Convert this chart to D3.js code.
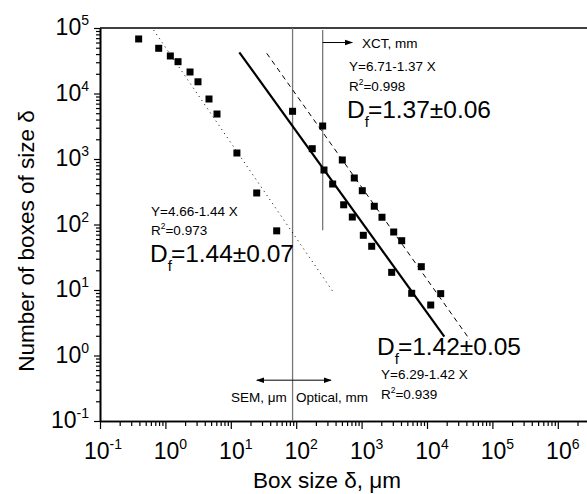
<!DOCTYPE html>
<html>
<head>
<meta charset="utf-8">
<script src="https://cdn.jsdelivr.net/npm/d3@7"></script>
<style>
  body { margin: 0; background: #fff; }
  svg { font-family: "Liberation Sans", Arial, sans-serif; }
</style>
</head>
<body>
<div id="chart"></div>
<script>
// SEM, um
var semX = [0.39, 0.79, 1.19, 1.56, 2.38, 3.15, 4.64, 6.15, 12.4, 24.9, 50.3];
var semY = [68000, 49000, 37400, 30600, 21300, 15100, 8240, 4860, 1235, 303, 80];
// Optical, mm
var optX = [88, 176, 266, 361, 532, 721, 1062, 1427, 2884, 5834, 11400];
var optY = [5350, 1437, 679, 415, 200, 130, 68.4, 46.5, 18.6, 8.9, 5.9];
// XCT, mm
var xctX = [254, 507, 773, 1025, 1563, 2050, 3097, 4104, 8180, 16200];
var xctY = [3190, 966, 513, 328, 190, 129, 76.8, 56.6, 22.7, 8.8];

// fitted lines, end points
var fitSemX = [0.66, 383], fitSemY = [93000, 8.8];
var fitOptX = [13.5, 18400], fitOptY = [42600, 1.94];
var fitXctX = [35.4, 45400], fitXctY = [41100, 1.73];

// range limits
var semOptLimit = 88;
var xctLimit = 254, xctLimitBottom = 82;

var xTickExp = [-1, 0, 1, 2, 3, 4, 5, 6];
var yTickExp = [-1, 0, 1, 2, 3, 4, 5];

(function () {
  var width = 587, height = 494;
  var mLeft = 100, mTop = 28, mBottom = 421;
  var decadeX = 65.4;

  var svg = d3.select("#chart").append("svg")
      .attr("width", width)
      .attr("height", height);

  svg.append("defs").append("marker")
      .attr("id", "arrow")
      .attr("viewBox", "0 0 10 10")
      .attr("refX", 9).attr("refY", 5)
      .attr("markerWidth", 8).attr("markerHeight", 8)
      .attr("markerUnits", "userSpaceOnUse")
      .attr("orient", "auto")
      .append("path")
      .attr("d", "M0,1.5 L10,5 L0,8.5 Z")
      .attr("fill", "#000");

  var x = d3.scaleLog().domain([0.1, 1e7]).range([mLeft, mLeft + 8 * decadeX]);
  var y = d3.scaleLog().domain([0.1, 1e5]).range([mBottom, mTop]);

  // minor ticks
  var xMinor = [], yMinor = [];
  for (var e = -1; e < 7; e++) for (var k = 2; k < 10; k++) xMinor.push(k * Math.pow(10, e));
  for (var e = -1; e < 5; e++) for (var k = 2; k < 10; k++) yMinor.push(k * Math.pow(10, e));

  function styleAxis(g) {
    g.select(".domain").attr("stroke", "#000").attr("stroke-width", 1.6);
    g.selectAll(".tick line").attr("stroke", "#000").attr("stroke-width", 1.2);
  }
  function pow10(d) { return Math.pow(10, d); }

  svg.append("g")
      .attr("transform", "translate(0," + mBottom + ")")
      .call(d3.axisBottom(x).tickValues(xMinor).tickSize(5).tickFormat("").tickSizeOuter(0))
      .call(styleAxis);
  svg.append("g")
      .attr("transform", "translate(0," + mBottom + ")")
      .call(d3.axisBottom(x).tickValues(xTickExp.map(pow10)).tickSize(8).tickFormat("").tickSizeOuter(0))
      .call(styleAxis);

  svg.append("g")
      .attr("transform", "translate(" + mLeft + ",0)")
      .call(d3.axisLeft(y).tickValues(yMinor).tickSize(4).tickFormat("").tickSizeOuter(0))
      .call(styleAxis);
  svg.append("g")
      .attr("transform", "translate(" + mLeft + ",0)")
      .call(d3.axisLeft(y).tickValues(yTickExp.map(pow10)).tickSize(6).tickFormat("").tickSizeOuter(0))
      .call(styleAxis);

  // top frame
  svg.append("line")
      .attr("x1", mLeft).attr("x2", width)
      .attr("y1", mTop).attr("y2", mTop)
      .attr("stroke", "#000").attr("stroke-width", 1.6);

  // tick labels
  function powLabel(t, e) {
    t.append("tspan").text("10");
    t.append("tspan").attr("dy", -10).attr("font-size", 14).text(e);
  }
  xTickExp.forEach(function (e) {
    var t = svg.append("text")
        .attr("x", x(pow10(e)) + (e < 0 ? 3 : 5))
        .attr("y", 459)
        .attr("text-anchor", "middle")
        .attr("font-size", 23);
    powLabel(t, e);
  });
  yTickExp.forEach(function (e) {
    var t = svg.append("text")
        .attr("y", y(pow10(e)) + 7)
        .attr("font-size", 23);
    powLabel(t, e);
    t.attr("x", 89 - t.node().getComputedTextLength());
  });

  // axis titles
  svg.append("text")
      .attr("x", 327).attr("y", 488)
      .attr("text-anchor", "middle")
      .attr("font-size", 22.5)
      .text("Box size \u03b4, \u03bcm");
  svg.append("text")
      .attr("transform", "translate(34,241) rotate(-90)")
      .attr("text-anchor", "middle")
      .attr("font-size", 22.5)
      .text("Number of boxes of size  \u03b4");

  var plot = svg.append("g");

  // range boundaries
  plot.append("line")
      .attr("x1", x(semOptLimit)).attr("x2", x(semOptLimit))
      .attr("y1", mTop).attr("y2", mBottom)
      .attr("stroke", "#777").attr("stroke-width", 1.3);
  plot.append("line")
      .attr("x1", x(xctLimit)).attr("x2", x(xctLimit))
      .attr("y1", mTop + 2).attr("y2", y(xctLimitBottom))
      .attr("stroke", "#777").attr("stroke-width", 1.3);

  // arrows
  function arrow(x0, x1, yv) {
    plot.append("line")
        .attr("x1", x(x0)).attr("x2", x(x1))
        .attr("y1", y(yv)).attr("y2", y(yv))
        .attr("stroke", "#000").attr("stroke-width", 1)
        .attr("marker-end", "url(#arrow)");
  }
  arrow(xctLimit, 720, 60000);
  arrow(semOptLimit, 25, 0.42);
  arrow(semOptLimit, 340, 0.42);

  // fitted lines
  function fitLine(xs, ys, w, dash) {
    plot.append("line")
        .attr("x1", x(xs[0])).attr("y1", y(ys[0]))
        .attr("x2", x(xs[1])).attr("y2", y(ys[1]))
        .attr("stroke", "#000")
        .attr("stroke-width", w)
        .attr("stroke-dasharray", dash);
  }
  fitLine(fitSemX, fitSemY, 1, "1,4");
  fitLine(fitXctX, fitXctY, 1, "5,4");
  fitLine(fitOptX, fitOptY, 2.2, null);

  // points
  var sz = 7;
  function squares(xs, ys) {
    plot.selectAll(null)
        .data(xs.map(function (d, i) { return [d, ys[i]]; }))
        .enter().append("rect")
        .attr("x", function (d) { return x(d[0]) - sz / 2; })
        .attr("y", function (d) { return y(d[1]) - sz / 2; })
        .attr("width", sz).attr("height", sz)
        .attr("fill", "#000");
  }
  squares(semX, semY);
  squares(optX, optY);
  squares(xctX, xctY);

  // annotations
  function small(tx, ty, str) {
    svg.append("text").attr("x", tx).attr("y", ty).attr("font-size", 13.5).text(str);
  }
  function rsq(tx, ty, val) {
    var t = svg.append("text").attr("x", tx).attr("y", ty).attr("font-size", 13.5);
    t.append("tspan").text("R");
    t.append("tspan").attr("dy", -6).attr("font-size", 8.5).text("2");
    t.append("tspan").attr("dy", 6).text("=" + val);
  }
  function df(tx, ty, val) {
    var t = svg.append("text").attr("x", tx).attr("y", ty).attr("font-size", 24.5);
    t.append("tspan").text("D");
    t.append("tspan").attr("dy", 9).attr("font-size", 15).text("f");
    t.append("tspan").attr("dy", -9).attr("dx", -1).text("=" + val);
  }

  small(362, 48, "XCT, mm");
  small(349, 71, "Y=6.71-1.37 X");
  rsq(349, 91, "0.998");
  df(347, 118, "1.37\u00b10.06");

  small(151, 216, "Y=4.66-1.44 X");
  rsq(151, 235, "0.973");
  df(150, 262, "1.44\u00b10.07");

  df(377, 355, "1.42\u00b10.05");
  small(381, 379, "Y=6.29-1.42 X");
  rsq(381, 399, "0.939");

  small(231, 402, "SEM, \u03bcm");
  small(296, 402, "Optical, mm");
})();
</script>
</body>
</html>
